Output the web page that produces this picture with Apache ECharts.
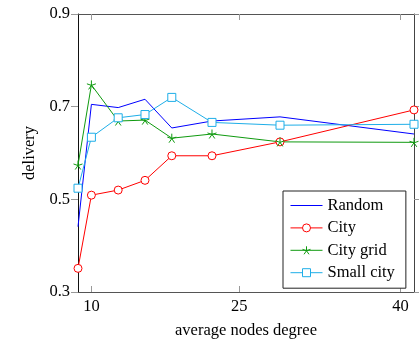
<!DOCTYPE html>
<html>
<head>
<meta charset="utf-8">
<script src="https://cdn.jsdelivr.net/npm/echarts@6/dist/echarts.min.js"></script>
<style>
  html, body { margin: 0; padding: 0; background: #fff; }
  #main { width: 419px; height: 343px; }
</style>
</head>
<body>
<div id="main"></div>
<script>
// x positions of the measurements (average nodes degree)
var degree = [8.7, 10, 12.6, 15.2, 17.8, 21.7, 28.3, 41.3];
var xTickValues = [10, 24.35, 40];
var xTickLabels = ['10', '25', '40'];

var random = [0.441, 0.705, 0.698, 0.716, 0.654, 0.669, 0.678, 0.641];
var city = [0.351, 0.509, 0.520, 0.541, 0.594, 0.594, 0.624, 0.693];
var cityGrid = [0.574, 0.747, 0.669, 0.671, 0.632, 0.641, 0.624, 0.623];
var smallCity = [0.524, 0.634, 0.676, 0.683, 0.720, 0.666, 0.660, 0.662];

var serif = "'Liberation Serif', 'DejaVu Serif', serif";
var starPath = 'path://M0,0L0,-5M0,0L-4.76,-1.55M0,0L-2.94,4.05M0,0L2.94,4.05M0,0L4.76,-1.55';

function pairs(ys) {
  return ys.map(function (y, i) { return [degree[i], y]; });
}

var myChart = echarts.init(document.getElementById('main'));

var tickStyle = { color: '#999', width: 1 };

var option = {
  animation: false,
  backgroundColor: '#fff',
  textStyle: { fontFamily: serif },
  grid: { left: 78, right: 5, top: 14, bottom: 51, outerBoundsMode: 'none' },
  legend: {
    orient: 'vertical',
    left: 283,
    top: 191,
    padding: [6, 11, 7, 7],
    itemWidth: 32,
    itemHeight: 10,
    itemGap: 5.4,
    borderColor: '#222',
    borderWidth: 1,
    borderRadius: 0,
    backgroundColor: '#fff',
    lineStyle: { width: 1 },
    itemStyle: { borderWidth: 1 },
    textStyle: { fontFamily: serif, fontSize: 16.5, color: '#000', lineHeight: 16 },
    data: [
      // plain line, no marker
      { name: 'Random', icon: 'path://M0,0H32V1H0Z', itemStyle: { color: '#0000ff' } },
      'City', 'City grid', 'Small city'
    ]
  },
  xAxis: [
    {
      type: 'value',
      min: 8.7,
      max: 41.3,
      name: 'average nodes degree',
      nameLocation: 'middle',
      nameGap: 30,
      nameTextStyle: { fontFamily: serif, fontSize: 16.5, color: '#000' },
      axisLine: { show: true, lineStyle: { color: '#555', width: 1 } },
      axisTick: { show: true, inside: true, length: 6, customValues: xTickValues, lineStyle: tickStyle },
      axisLabel: {
        customValues: xTickValues,
        margin: 6,
        fontFamily: serif, fontSize: 16.5, color: '#000',
        formatter: function (v) {
          var i = xTickValues.indexOf(v);
          return i >= 0 ? xTickLabels[i] : '';
        }
      },
      splitLine: { show: false }
    },
    {
      type: 'value',
      position: 'top',
      min: 8.7,
      max: 41.3,
      axisLine: { show: true, lineStyle: { color: '#555', width: 1 } },
      axisTick: { show: true, inside: true, length: 6, customValues: xTickValues, lineStyle: tickStyle },
      axisLabel: { show: false },
      splitLine: { show: false }
    }
  ],
  yAxis: [
    {
      type: 'value',
      min: 0.3,
      max: 0.9,
      interval: 0.2,
      name: 'delivery',
      nameLocation: 'middle',
      nameGap: 40,
      nameTextStyle: { fontFamily: serif, fontSize: 16.5, color: '#000' },
      axisLine: { show: true, lineStyle: { color: '#111', width: 1 } },
      axisTick: { show: true, inside: false, length: 7, lineStyle: tickStyle },
      axisLabel: {
        margin: 8,
        fontFamily: serif, fontSize: 16.5, color: '#000',
        formatter: function (v) { return v.toFixed(1); }
      },
      splitLine: { show: false }
    },
    {
      type: 'value',
      position: 'right',
      min: 0.3,
      max: 0.9,
      interval: 0.2,
      axisLine: { show: true, lineStyle: { color: '#444', width: 1 } },
      axisTick: { show: true, inside: false, length: 5, lineStyle: tickStyle },
      axisLabel: { show: false },
      splitLine: { show: false }
    }
  ],
  series: [
    {
      name: 'Random',
      type: 'line',
      symbol: 'none',
      lineStyle: { color: '#0000ff', width: 1 },
      itemStyle: { color: '#0000ff' },
      data: pairs(random)
    },
    {
      name: 'City',
      type: 'line',
      symbol: 'circle',
      symbolSize: 8,
      lineStyle: { color: '#ff0000', width: 1 },
      itemStyle: { color: '#fff', borderColor: '#ff0000', borderWidth: 1 },
      data: pairs(city)
    },
    {
      name: 'City grid',
      type: 'line',
      symbol: starPath,
      symbolSize: 9,
      lineStyle: { color: '#0f9a0f', width: 1 },
      itemStyle: { color: '#0f9a0f', borderColor: '#0f9a0f', borderWidth: 1 },
      data: pairs(cityGrid)
    },
    {
      name: 'Small city',
      type: 'line',
      symbol: 'rect',
      symbolSize: 8,
      lineStyle: { color: '#1eaee8', width: 1 },
      itemStyle: { color: '#fff', borderColor: '#1eaee8', borderWidth: 1 },
      data: pairs(smallCity)
    }
  ]
};

myChart.setOption(option);
window.onresize = function () {
  myChart.resize();
};
</script>
</body>
</html>
